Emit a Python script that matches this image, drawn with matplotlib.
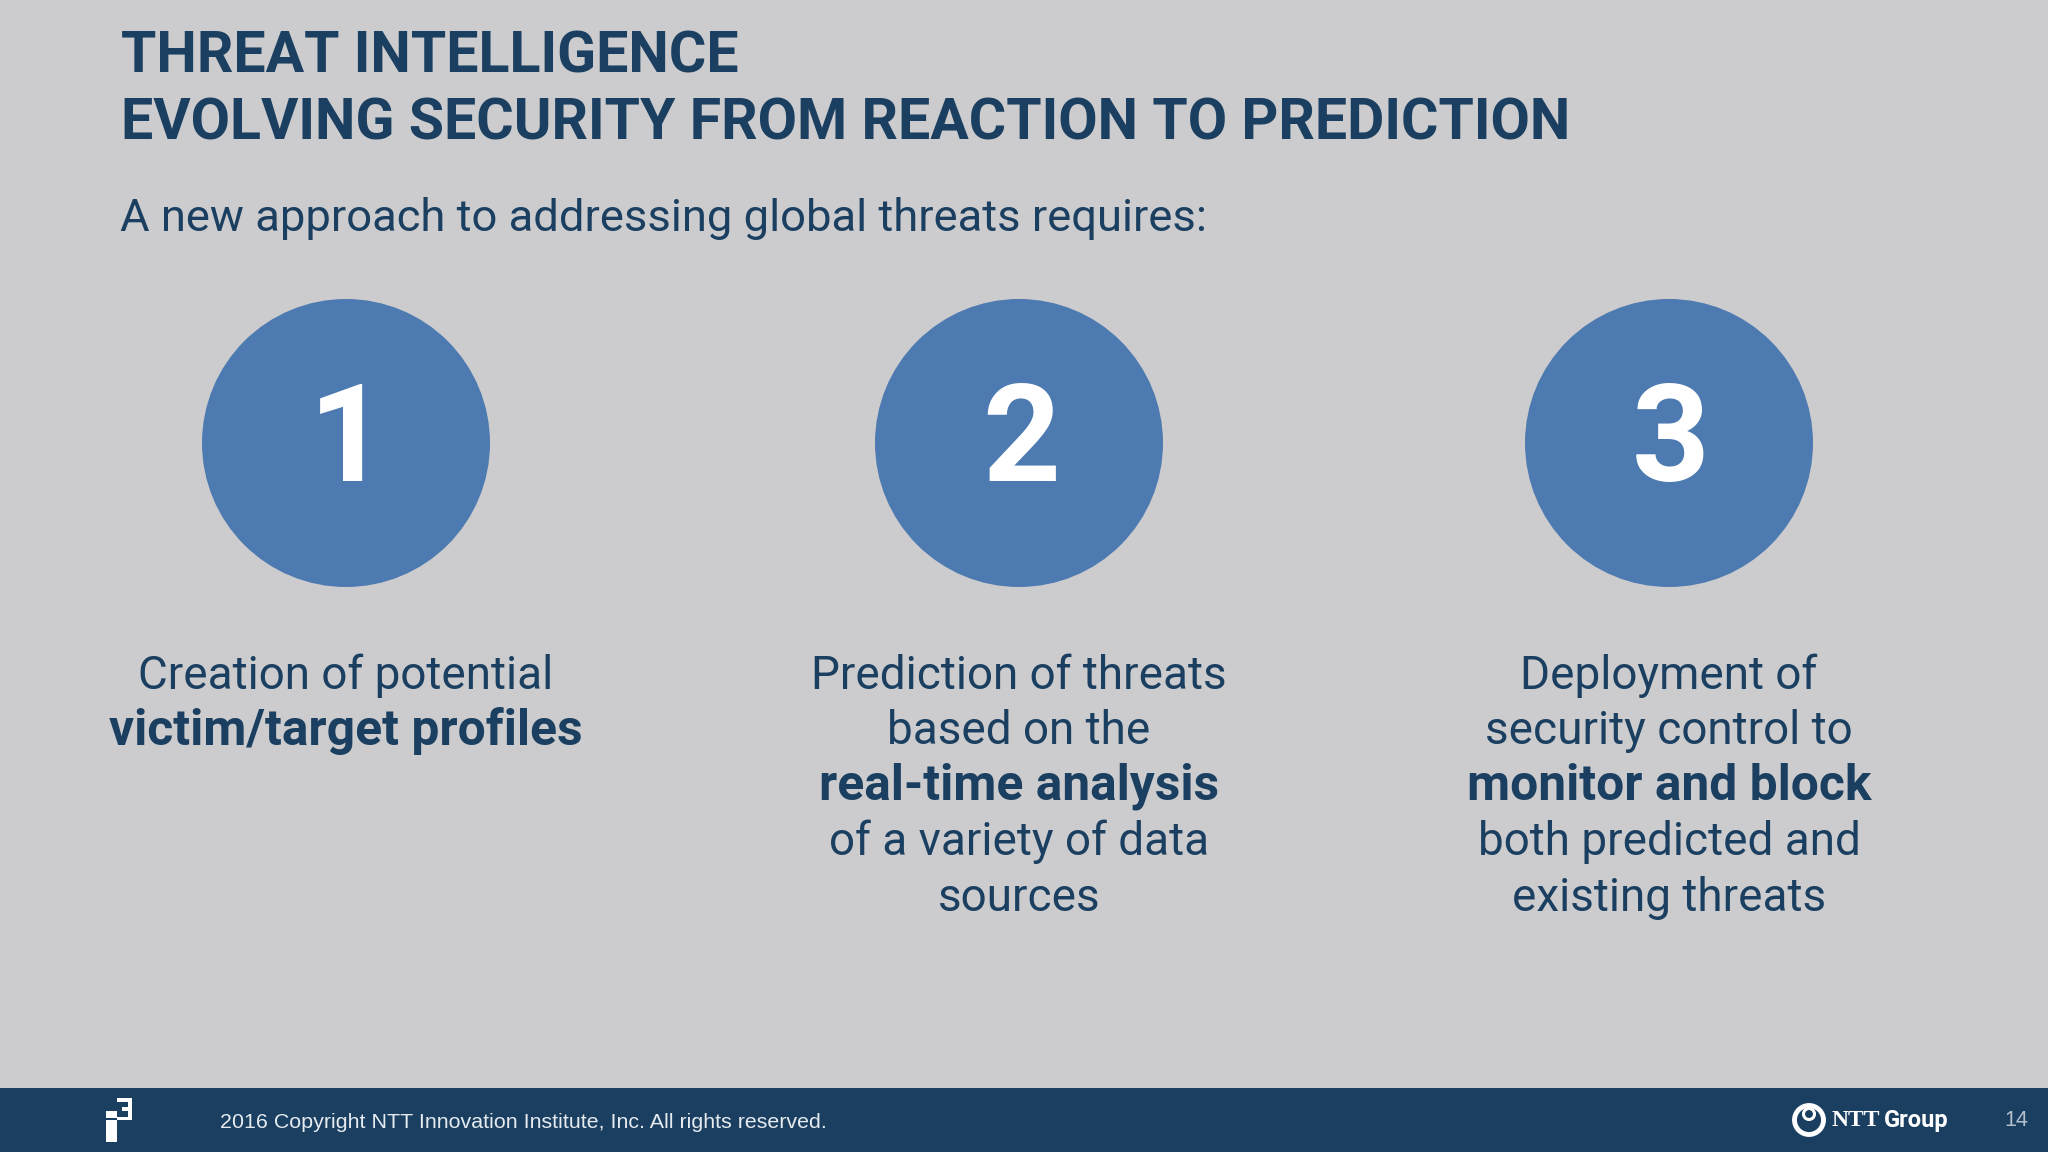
import matplotlib
matplotlib.use('Agg')
import matplotlib.pyplot as plt
from matplotlib.patches import Circle, Rectangle

title_lines = ['THREAT INTELLIGENCE', 'EVOLVING SECURITY FROM REACTION TO PREDICTION']
subtitle = 'A new approach to addressing global threats requires:'
numbers = ['1', '2', '3']
# (text, bold) per line of each column
col1 = [('Creation of potential', False), ('victim/target profiles', True)]
col2 = [('Prediction of threats', False), ('based on the', False), ('real-time analysis', True),
        ('of a variety of data', False), ('sources', False)]
col3 = [('Deployment of', False), ('security control to', False), ('monitor and block', True),
        ('both predicted and', False), ('existing threats', False)]
columns = [col1, col2, col3]
footer_text = '2016 Copyright NTT Innovation Institute, Inc. All rights reserved.'
page_number = '14'

bg = '#cccbcd'
navy = '#1a3f60'
blue = '#4d7bb1'

plt.rcParams['font.family'] = ['Roboto', 'DejaVu Sans']

fig = plt.figure(figsize=(20.48, 11.52), dpi=100, facecolor=bg)
ax = fig.add_axes([0, 0, 1, 1])
ax.set_xlim(0, 2048)
ax.set_ylim(1152, 0)
ax.axis('off')

# header
ax.text(121, 57, title_lines[0], color=navy, fontsize=41.2, fontweight='bold', va='center', ha='left')
ax.text(121, 124, title_lines[1], color=navy, fontsize=41.2, fontweight='bold', va='center', ha='left')
ax.text(120, 218, subtitle, color=navy, fontsize=32.7, va='center', ha='left')

# circles and column text
centers = [346, 1019, 1669]
line_y = [676, 731, 786, 842, 898]
for cx, num, col in zip(centers, numbers, columns):
    ax.add_patch(Circle((cx, 443), 144, color=blue, lw=0))
    ax.text(cx + 2, 444, num, color='white', fontsize=98, fontweight='bold', ha='center', va='center')
    for (line, bold), y in zip(col, line_y):
        ax.text(cx, y, line, color=navy, fontsize=35.8 if bold else 33, ha='center', va='center',
                fontweight='bold' if bold else 'normal')

# footer
ax.add_patch(Rectangle((0, 1088), 2048, 64, color=navy, lw=0))
ax.text(220, 1122, footer_text, color='#e6ebf0', fontsize=15.4, family='Liberation Sans', va='center', ha='left')
ax.text(2028, 1120, page_number, color='#b4c0cc', fontsize=15.5, family='Liberation Sans', va='center', ha='right')

# i3 logo
logo_rects = [(106, 1120, 11, 22), (106, 1111, 11, 7),
              (117, 1098, 15, 4), (128, 1098, 4, 22), (122, 1107, 10, 4), (117, 1117, 15, 3)]
for x, y, w, h in logo_rects:
    ax.add_patch(Rectangle((x, y), w, h, color='white', lw=0))

# NTT Group logo
ax.add_patch(Circle((1809, 1120), 14.5, fill=False, ec='white', lw=3.5))
ax.add_patch(Circle((1809, 1114), 5.5, fill=False, ec='white', lw=2.2))
ax.text(1832, 1120, 'NTT', color='white', fontsize=17, fontweight='bold',
        family='Liberation Serif', va='center', ha='left')
ax.text(1884, 1120, 'Group', color='white', fontsize=17, fontweight='bold', va='center', ha='left')

fig.savefig('out.png', dpi=100, facecolor=bg)
